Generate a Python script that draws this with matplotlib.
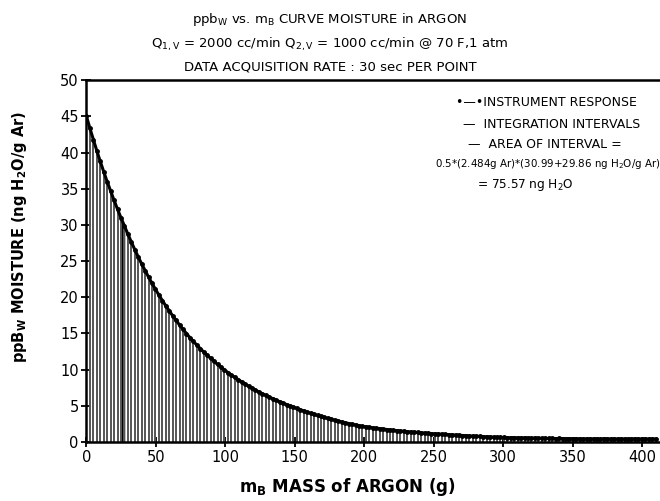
import numpy as np
from matplotlib import pyplot as plt

# instrument response, one point every 30 s (2.484 g of argon per interval)
interval_g = 2.484
moisture = [
    45.00, 43.35, 41.77, 40.24, 38.77, 37.35, 35.98, 34.67, 33.40, 32.17,
    30.99, 29.86, 28.73, 27.64, 26.59, 25.58, 24.61, 23.68, 22.78, 21.92,
    21.09, 20.30, 19.54, 18.81, 18.11, 17.43, 16.78, 16.15, 15.55, 14.97,
    14.41, 13.89, 13.38, 12.89, 12.42, 11.97, 11.54, 11.12, 10.71, 10.32,
    9.95, 9.59, 9.25, 8.92, 8.60, 8.29, 7.99, 7.70, 7.43, 7.16,
    6.90, 6.65, 6.42, 6.19, 5.97, 5.76, 5.55, 5.35, 5.16, 4.98,
    4.80, 4.62, 4.44, 4.27, 4.11, 3.95, 3.80, 3.65, 3.51, 3.38,
    3.25, 3.12, 2.99, 2.87, 2.76, 2.65, 2.54, 2.44, 2.34, 2.24,
    2.15, 2.08, 2.01, 1.95, 1.89, 1.82, 1.76, 1.71, 1.65, 1.60,
    1.55, 1.50, 1.46, 1.42, 1.38, 1.34, 1.30, 1.26, 1.22, 1.19,
    1.15, 1.12, 1.09, 1.06, 1.03, 1.00, 0.97, 0.94, 0.91, 0.88,
    0.85, 0.83, 0.80, 0.78, 0.75, 0.73, 0.71, 0.68, 0.66, 0.64,
    0.62, 0.61, 0.59, 0.58, 0.60, 0.56, 0.55, 0.57, 0.53, 0.52,
    0.54, 0.51, 0.49, 0.50, 0.47, 0.48, 0.46, 0.47, 0.45, 0.44,
    0.46, 0.43, 0.45, 0.42, 0.40, 0.44, 0.41, 0.43, 0.42, 0.40,
    0.45, 0.42, 0.41, 0.44, 0.40, 0.43, 0.41, 0.39, 0.42, 0.44,
    0.40, 0.41, 0.43, 0.40, 0.42, 0.41,
]
highlight = 10  # interval between point 10 and 11

y = np.array(moisture)
x = interval_g * np.arange(len(y))

fig = plt.figure(figsize=(6.6, 5.01), dpi=100)
ax = fig.add_axes([0.131, 0.118, 0.869, 0.722])

# integration intervals
ax.vlines(x, 0, y, color='#555555', lw=1.4)
# highlighted interval area
ax.fill_between(x[highlight:highlight + 2], 0, y[highlight:highlight + 2], color='black', lw=0.5)
# instrument response
ax.plot(x, y, color='black', lw=2.2, marker='o', ms=2.5)

ax.set_xlim(0, 413)
ax.set_ylim(0, 50)
ax.set_xticks(np.arange(0, 401, 50))
ax.set_yticks(np.arange(0, 51, 5))
ax.tick_params(direction='inout', length=7, width=1.3, labelsize=10.5, pad=2)
ax.spines['right'].set_visible(False)
for s in ['left', 'bottom', 'top']:
    ax.spines[s].set_linewidth(1.8)

ax.set_xlabel(r'm$_\mathbf{B}$ MASS of ARGON (g)', fontsize=12, fontweight='bold')
ax.xaxis.set_label_coords(0.456, -0.095)
ax.set_ylabel(r'ppB$_\mathbf{W}$ MOISTURE (ng H$_\mathbf{2}$O/g Ar)', fontsize=10.5, fontweight='bold')
ax.yaxis.set_label_coords(-0.1, 0.566)

fig.text(0.5, 0.962, r'ppb$_\mathrm{W}$ vs. m$_\mathrm{B}$ CURVE MOISTURE in ARGON', ha='center', va='center', fontsize=9.5)
fig.text(0.5, 0.912, r'Q$_\mathrm{1,V}$ = 2000 cc/min Q$_\mathrm{2,V}$ = 1000 cc/min @ 70 F,1 atm', ha='center', va='center', fontsize=9.5)
fig.text(0.5, 0.866, 'DATA ACQUISITION RATE : 30 sec PER POINT', ha='center', va='center', fontsize=9.5)

# legend block
fig.text(546 / 660, 1 - 103 / 501, '•—•INSTRUMENT RESPONSE', ha='center', va='center', fontsize=9)
fig.text(552 / 660, 1 - 124 / 501, '—  INTEGRATION INTERVALS', ha='center', va='center', fontsize=9)
fig.text(545 / 660, 1 - 144 / 501, '—  AREA OF INTERVAL =', ha='center', va='center', fontsize=9)
fig.text(548 / 660, 1 - 164 / 501, r'0.5*(2.484g Ar)*(30.99+29.86 ng H$_2$O/g Ar)', ha='center', va='center', fontsize=7.4)
fig.text(525 / 660, 1 - 185 / 501, r'= 75.57 ng H$_2$O', ha='center', va='center', fontsize=8.7)

plt.savefig('out.png')
